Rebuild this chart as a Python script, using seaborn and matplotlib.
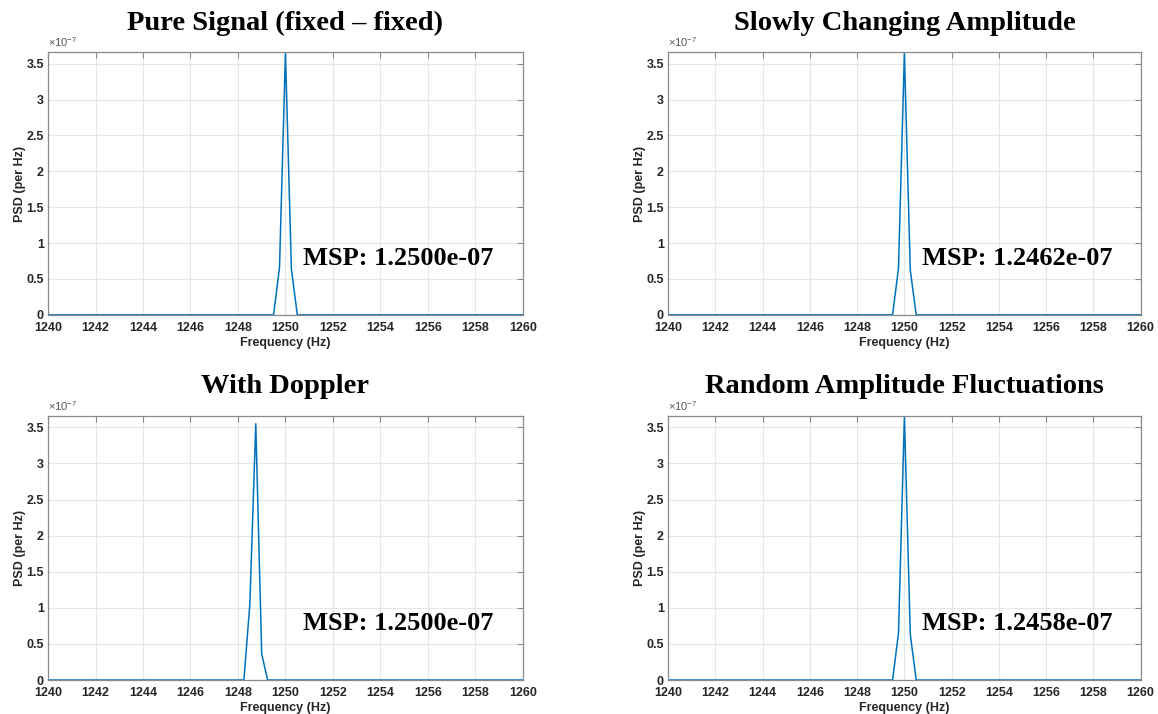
import matplotlib
matplotlib.use('Agg')
import matplotlib.pyplot as plt
import matplotlib.ticker as mticker
import seaborn as sns
import pandas as pd

# Datos (PSD por Hz, solo los puntos que no son cero y los extremos)
titulos = ['Pure Signal (fixed \u2013 fixed)', 'Slowly Changing Amplitude',
           'With Doppler', 'Random Amplitude Fluctuations']
msp = ['MSP: 1.2500e-07', 'MSP: 1.2462e-07', 'MSP: 1.2500e-07', 'MSP: 1.2458e-07']

freq_pura = [1240, 1249.5, 1249.75, 1250.0, 1250.25, 1250.5, 1260]
psd_pura = [0, 0, 0.66e-7, 3.65e-7, 0.64e-7, 0, 0]

freq_lenta = [1240, 1249.5, 1249.75, 1250.0, 1250.25, 1250.5, 1260]
psd_lenta = [0, 0, 0.65e-7, 3.65e-7, 0.62e-7, 0, 0]

freq_doppler = [1240, 1248.25, 1248.5, 1248.75, 1249.0, 1249.25, 1260]
psd_doppler = [0, 0, 1.05e-7, 3.55e-7, 0.36e-7, 0, 0]

freq_aleatoria = [1240, 1249.5, 1249.75, 1250.0, 1250.25, 1250.5, 1260]
psd_aleatoria = [0, 0, 0.65e-7, 3.65e-7, 0.63e-7, 0, 0]

series = [(freq_pura, psd_pura), (freq_lenta, psd_lenta),
          (freq_doppler, psd_doppler), (freq_aleatoria, psd_aleatoria)]

x_ticks = list(range(1240, 1261, 2))
y_ticks = [0, 0.5e-7, 1e-7, 1.5e-7, 2e-7, 2.5e-7, 3e-7, 3.5e-7]

sns.set_theme(style="whitegrid")
plt.rcParams['font.family'] = ['Liberation Sans', 'DejaVu Sans']
plt.rcParams['mathtext.fontset'] = 'custom'
plt.rcParams['mathtext.rm'] = 'Liberation Sans'

fig = plt.figure(figsize=(11.58, 7.14), dpi=100)

# posiciones de los ejes [izq, abajo, ancho, alto]
posiciones = [[0.0415, 0.559, 0.410, 0.368], [0.577, 0.559, 0.408, 0.368],
              [0.0415, 0.0476, 0.410, 0.370], [0.577, 0.0476, 0.408, 0.370]]

color_linea = '#0072BD'
color_texto = '#262626'

for i in range(4):
    ax = fig.add_axes(posiciones[i])
    df = pd.DataFrame({'f': series[i][0], 'psd': series[i][1]})
    sns.lineplot(x='f', y='psd', data=df, ax=ax, color=color_linea, linewidth=1.1)

    ax.set_xlim(1240, 1260)
    ax.set_ylim(0, 3.66e-7)
    ax.set_xticks(x_ticks)
    ax.set_yticks(y_ticks)

    # etiquetas estilo MATLAB: 0, 0.5, 1 ... con el factor x10^-7 arriba
    ax.yaxis.set_major_formatter(mticker.FuncFormatter(lambda v, p: f'{v * 1e7:g}'))
    ax.text(0.0, 1.012, r'$\times\mathregular{10^{-7}}$', transform=ax.transAxes,
            fontsize=8, color='#555555', ha='left', va='bottom')

    ax.set_facecolor('white')
    ax.grid(True, color='#e6e6e6', linewidth=0.8)
    for s in ax.spines.values():
        s.set_color('#8a8a8a')
        s.set_linewidth(0.9)
    ax.tick_params(direction='in', length=4, width=0.8, color='#8a8a8a',
                   top=True, right=True, labelsize=9, labelcolor=color_texto)
    ax.tick_params(axis='x', pad=5)
    ax.tick_params(axis='y', pad=3)
    for lbl in ax.get_xticklabels() + ax.get_yticklabels():
        lbl.set_fontweight('bold')

    ax.set_xlabel('Frequency (Hz)', fontsize=9, fontweight='bold', color=color_texto, labelpad=2)
    ax.set_ylabel('PSD (per Hz)', fontsize=9, fontweight='bold', color=color_texto, labelpad=0)

    ax.set_title(titulos[i], fontsize=20.5, fontweight='bold', family='Liberation Serif',
                 color='black', y=1.085, pad=0)

    ax.text(1250.74, 0.78e-7, msp[i], fontsize=19, fontweight='bold',
            family='Liberation Serif', color='black', va='center', ha='left')

plt.savefig('out.png', dpi=100)
